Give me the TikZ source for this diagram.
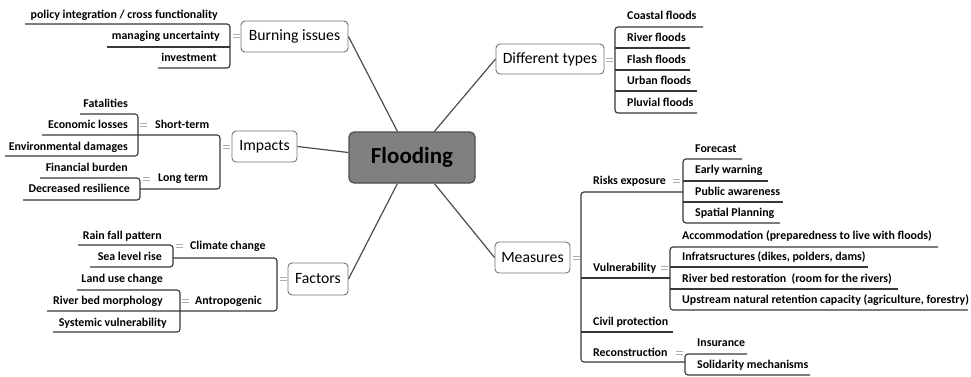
\documentclass[tikz,border=0pt]{standalone}
\usepackage{fontspec}
\setmainfont{Carlito}
\usetikzlibrary{calc}
\tikzset{
  item/.style={font=\bfseries\fontsize{11.9}{14}\selectfont, inner sep=0pt, text height=8pt, text depth=0.8pt},
  topic/.style={draw=black!55, line width=0.9pt, rounded corners=4pt, fill=white, inner sep=0pt, font=\fontsize{15.7}{18}\selectfont},
  central/.style={draw=black!70, line width=1.2pt, rounded corners=5pt, fill=black!50, inner sep=0pt, font=\bfseries\fontsize{23}{27}\selectfont},
  ln/.style={line width=1.15pt, draw=black!78, rounded corners=3pt},
  conn/.style={line width=1.2pt, draw=black!70},
  eqmark/.pic={\draw[black!32, line width=0.9pt] (-3.5,-1.3)--(3.5,-1.3) (-3.5,1.3)--(3.5,1.3);}
}
\begin{document}
\begin{tikzpicture}[x=1pt,y=-1pt]
\useasboundingbox (0,0) rectangle (971,376);

% ---------- lines (underlines and brackets) ----------
% Burning issues
\draw[ln] (25,24) -- (230,24) -- (230,68) -- (158,68);
\draw[ln] (107,47) -- (230,47);
% Impacts
\draw[ln] (80,114) -- (138,114) -- (138,156) -- (5,156);
\draw[ln] (42,135) -- (220,135) -- (220,189) -- (140,189);
\draw[ln] (40,178) -- (140,178) -- (140,200) -- (23,200);
% Factors
\draw[ln] (78,245) -- (173,245) -- (173,267) -- (90,267);
\draw[ln] (173,258) -- (277,258) -- (277,311) -- (47,311);
\draw[ln] (77,290) -- (180,290) -- (180,332) -- (53,332);
% Different types
\draw[ln] (703,27) -- (615,27) -- (615,113) -- (697,113);
\draw[ln] (615,48) -- (690,48);
\draw[ln] (615,70) -- (690,70);
\draw[ln] (615,91) -- (697,91);
% Measures
\draw[ln] (683,192) -- (581,192) -- (581,362) -- (685,362);
\draw[ln] (581,278) -- (670,278);
\draw[ln] (581,332) -- (673,332);
\draw[ln] (742,159) -- (683,159) -- (683,223) -- (780,223);
\draw[ln] (683,181) -- (768,181);
\draw[ln] (683,202) -- (783,202);
\draw[ln] (938,247) -- (670,247) -- (670,310) -- (968,310);
\draw[ln] (670,267) -- (868,267);
\draw[ln] (670,289) -- (898,289);
\draw[ln] (747,354) -- (685,354) -- (685,375) -- (810,375);

% ---------- markers ----------
\pic at (236.5,36) {eqmark};
\pic at (143.5,125) {eqmark};
\pic at (146.5,179) {eqmark};
\pic at (226.5,147) {eqmark};
\pic at (179.5,246) {eqmark};
\pic at (185.5,301) {eqmark};
\pic at (283.5,279) {eqmark};
\pic at (609.5,60) {eqmark};
\pic at (576,258) {eqmark};
\pic at (676.5,181) {eqmark};
\pic at (664.5,268) {eqmark};
\pic at (679.5,353) {eqmark};

% ---------- topic boxes ----------
\node[central, minimum width=126pt, minimum height=51pt] (fl) at (412,157.5) {Flooding};
\node[topic, minimum width=107pt, minimum height=31pt] (bi) at (294.5,36.5) {Burning issues};
\node[topic, minimum width=65pt, minimum height=31pt] (imp) at (264.5,146.5) {Impacts};
\node[topic, minimum width=60pt, minimum height=32pt] (fac) at (318,279) {Factors};
\node[topic, minimum width=108pt, minimum height=30pt] (dt) at (550,59) {Different types};
\node[topic, minimum width=75pt, minimum height=31pt] (mea) at (532.5,257.5) {Measures};

% ---------- connectors ----------
\draw[conn] (bi.east) -- ($(fl.north west)+(49,0)$);
\draw[conn] (imp.east) -- ($(fl.west)+(0,-5)$);
\draw[conn] (fac.east) -- ($(fl.south west)+(49,0)$);
\draw[conn] (dt.west) -- ($(fl.north west)+(86,0)$);
\draw[conn] (mea.west) -- ($(fl.south west)+(86,0)$);

% ---------- left items ----------
\node[item, anchor=east] (b1) at (218,15) {policy integration / cross functionality};
\node[item, anchor=east] (b2) at (220,36) {managing uncertainty};
\node[item, anchor=east] (b3) at (217,58) {investment};

\node[item, anchor=east] (i1) at (128,104) {Fatalities};
\node[item, anchor=east] (i2) at (128,125) {Economic losses};
\node[item, anchor=east] (i3) at (128,147) {Environmental damages};
\node[item, anchor=east] (i4) at (128,168) {Financial burden};
\node[item, anchor=east] (i5) at (130,189) {Decreased resilience};
\node[item, anchor=west] (st) at (155,125) {Short-term};
\node[item, anchor=west] (lt) at (158,178) {Long term};

\node[item, anchor=east] (f1) at (162,236) {Rain fall pattern};
\node[item, anchor=east] (f2) at (162,257) {Sea level rise};
\node[item, anchor=east] (f3) at (163,279) {Land use change};
\node[item, anchor=east] (f4) at (163,301) {River bed morphology};
\node[item, anchor=east] (f5) at (167,323) {Systemic vulnerability};
\node[item, anchor=west] (cc) at (190,246) {Climate change};
\node[item, anchor=west] (an) at (195,301) {Antropogenic};

% ---------- right items ----------
\node[item, anchor=west] (d1) at (627,16) {Coastal floods};
\node[item, anchor=west] (d2) at (627,38) {River floods};
\node[item, anchor=west] (d3) at (627,60) {Flash floods};
\node[item, anchor=west] (d4) at (627,81) {Urban floods};
\node[item, anchor=west] (d5) at (627,103) {Pluvial floods};

\node[item, anchor=west] (re) at (593,181) {Risks exposure};
\node[item, anchor=west] (vu) at (593,268) {Vulnerability};
\node[item, anchor=west] (cp) at (593,322) {Civil protection};
\node[item, anchor=west] (rc) at (593,353) {Reconstruction};

\node[item, anchor=west] (r1) at (695,149) {Forecast};
\node[item, anchor=west] (r2) at (695,170) {Early warning};
\node[item, anchor=west] (r3) at (695,192) {Public awareness};
\node[item, anchor=west] (r4) at (695,213) {Spatial Planning};

\node[item, anchor=west] (v1) at (682,236) {Accommodation (preparedness to live with floods)};
\node[item, anchor=west] (v2) at (682,257) {Infratsructures (dikes, polders, dams)};
\node[item, anchor=west] (v3) at (682,279) {River bed restoration~~(room for the rivers)};
\node[item, anchor=west] (v4) at (682,300) {Upstream natural retention capacity (agriculture, forestry)};

\node[item, anchor=west] (c1) at (697,343) {Insurance};
\node[item, anchor=west] (c2) at (697,365) {Solidarity mechanisms};
\end{tikzpicture}
\end{document}
